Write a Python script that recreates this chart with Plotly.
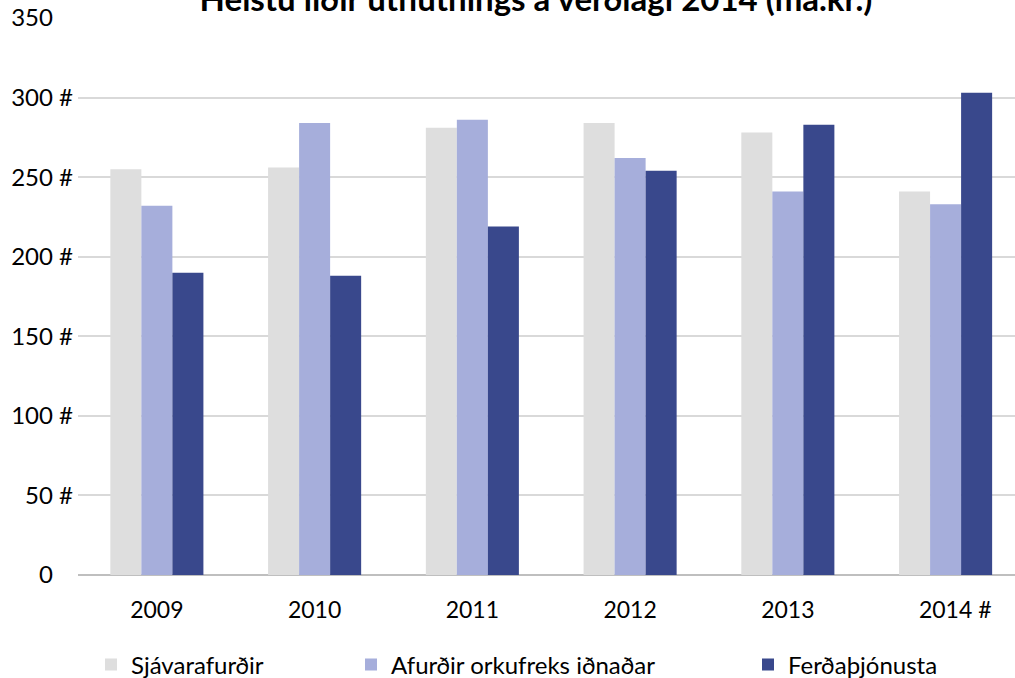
import plotly.graph_objects as go

# Helstu liðir útflutnings (ma.kr., verðlag 2014)
years = ["2009", "2010", "2011", "2012", "2013", "2014"]
year_labels = ["2009", "2010", "2011", "2012", "2013", "2014 #"]
sjavarafurdir = [255, 256, 281, 284, 278, 241]
orkufrekur = [232, 284, 286, 262, 241, 233]
ferdathjonusta = [190, 188, 219, 254, 283, 303]

y_ticks = [0, 50, 100, 150, 200, 250, 300, 350]
y_tick_labels = ["0", "50 #", "100 #", "150 #", "200 #", "250 #", "300 #", "350"]

series_names = ["Sjávarafurðir", "Afurðir orkufreks iðnaðar", "Ferðaþjónusta"]
colors = ["#dedede", "#a6aedb", "#39488c"]

hidden = "<span style='color:rgba(0,0,0,0)'>\u00a0#</span>"
hidden_front = "<span style='color:rgba(0,0,0,0)'>#\u00a0</span>"


def pad_tick(label):
    # Excel-style labels: keep numbers lined up when "#" is missing
    return label if "#" in label else label + hidden


def pad_year(label):
    if "#" in label:
        return hidden_front + label.replace(" #", "\u00a0#")
    return label


fig = go.Figure()
series = [sjavarafurdir, orkufrekur, ferdathjonusta]
legend_ids = ["legend", "legend2", "legend3"]
for name, vals, col, lg in zip(series_names, series, colors, legend_ids):
    fig.add_trace(go.Bar(
        x=years, y=vals, name=name,
        marker_color=col, marker_line_width=0,
        legend=lg, showlegend=True,
    ))

font = "Lato, 'Open Sans', sans-serif"
# container refs so the legends don't eat into the plot area
legend_common = dict(
    orientation="h", xref="container", yref="container",
    xanchor="left", yanchor="middle", y=1 - 665 / 678,
    font=dict(family=font, size=24, color="#000000"),
    bgcolor="rgba(0,0,0,0)",
)

fig.update_layout(
    width=1015, height=678,
    margin=dict(l=78, r=0, t=17.5, b=102.5),
    paper_bgcolor="white", plot_bgcolor="white",
    font=dict(family=font, size=23, color="#000000"),
    showlegend=True,
    title=dict(
        text="<b>Helstu liðir útflutnings á verðlagi 2014 (ma.kr.)</b>",
        x=536 / 1015, xanchor="center",
        yref="container", y=1 - 11 / 678, yanchor="bottom",
        font=dict(family=font, size=33, color="#000000"),
    ),
    barmode="group", bargap=0.41, bargroupgap=0,
    xaxis=dict(
        type="category",
        range=[-0.5, 5.44],
        tickvals=years,
        ticktext=[pad_year(t) for t in year_labels],
        showgrid=False, showline=False, zeroline=False,
        ticks="", ticklabelstandoff=19, automargin=False,
        tickfont=dict(family=font, size=23, color="#000000"),
    ),
    yaxis=dict(
        range=[0, 350],
        tickvals=y_ticks,
        ticktext=[pad_tick(t) for t in y_tick_labels],
        showgrid=True, gridcolor="#d9d9d9", gridwidth=2,
        zeroline=True, zerolinecolor="#bfbfbf", zerolinewidth=2,
        showline=False, ticks="", ticklabelstandoff=4, automargin=False,
        tickfont=dict(family=font, size=24, color="#000000"),
    ),
    legend=dict(x=91 / 1015, **legend_common),
    legend2=dict(x=351 / 1015, **legend_common),
    legend3=dict(x=748 / 1015, **legend_common),
)

# the chart fills the whole window, like the original export
fig.write_html(
    "out.html",
    config={"displayModeBar": False},
    post_script="document.body.style.margin='0px';"
                "document.body.style.overflow='hidden';",
)
